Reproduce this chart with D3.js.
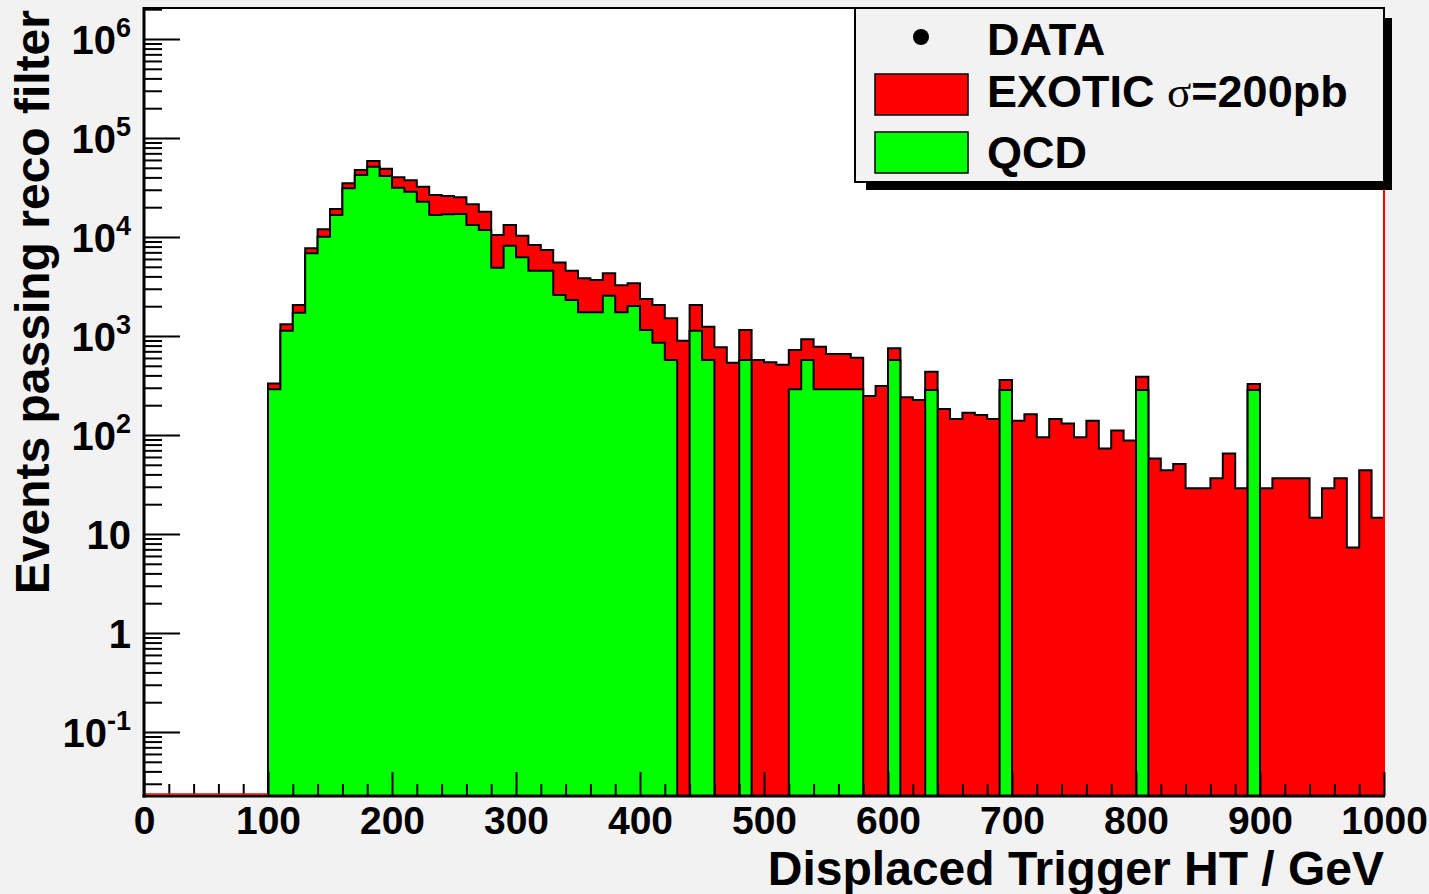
<!DOCTYPE html>
<html>
<head>
<meta charset="utf-8">
<script src="https://cdn.jsdelivr.net/npm/d3@7"></script>
<style>
  html, body { margin: 0; padding: 0; background: #f2f2f2; }
  svg { display: block; font-family: 'Liberation Sans', Arial, Helvetica, sans-serif; font-weight: bold; }
</style>
</head>
<body>
<div id="chart"></div>
<script>
// bin low edges, 10 GeV wide
const binLow = d3.range(0, 1000, 10);

// QCD (green), events per bin
const qcd = [
    0, 0, 0, 0, 0, 0, 0, 0, 0, 0,
    289, 1132, 1720, 6840, 10070, 16680, 31030, 42300, 51300, 41300,
    31500, 28700, 22700, 16700, 16950, 17100, 13200, 11770, 4900, 8170,
    6240, 4570, 4570, 2590, 2310, 1735, 1735, 2550, 1735, 2010,
    1150, 855, 572, 0, 1132, 572, 0, 0, 572, 0,
    0, 0, 289, 572, 289, 289, 289, 289, 0, 0,
    572, 0, 0, 285, 0, 0, 0, 0, 0, 285,
    0, 0, 0, 0, 0, 0, 0, 0, 0, 0,
    285, 0, 0, 0, 0, 0, 0, 0, 0, 285,
    0, 0, 0, 0, 0, 0, 0, 0, 0, 0
];

// EXOTIC sigma=200pb (red), stacked on top of QCD
const exotic = [
    0, 0, 0, 0, 0, 0, 0, 0, 0, 0,
    43, 181, 336, 850, 1900, 2490, 3820, 5200, 7300, 7660,
    8600, 8700, 9500, 9800, 8950, 8100, 8200, 6230, 5580, 5050,
    4060, 3730, 2830, 2920, 2260, 2095, 1945, 1750, 1515, 1395,
    1215, 1201, 938, 897, 924, 670, 769, 537, 578, 572,
    542, 513, 433, 353, 491, 369, 369, 315, 248, 313,
    179, 240, 226, 151, 183, 145, 168, 159, 145, 74,
    139, 162, 95, 145, 131, 95, 139, 73, 111, 88,
    103, 58, 44, 51, 29, 29, 36.5, 65, 29, 42,
    29, 36.5, 36.5, 36.5, 14.6, 29, 36.5, 7.3, 44, 14.6
];

const xMajor = [0, 100, 200, 300, 400, 500, 600, 700, 800, 900, 1000];
const yMajorExp = [-1, 0, 1, 2, 3, 4, 5, 6];
const legendLabels = ['DATA', 'EXOTIC', 'QCD'];

const W = 1429, H = 894;
const pLeft = 144, pRight = 1384, pTop = 8, pBottom = 796;

const svg = d3.select('#chart').append('svg')
    .attr('width', W)
    .attr('height', H);

svg.append('rect').attr('width', W).attr('height', H).attr('fill', '#f2f2f2');

const x = d3.scaleLinear().domain([0, 1000]).range([pLeft, pRight]);
const y = d3.scaleLog().domain([Math.pow(10, -1.6465), Math.pow(10, 6.3131)]).range([pBottom, pTop]).clamp(true);

svg.append('rect')
    .attr('x', pLeft).attr('y', pTop)
    .attr('width', pRight - pLeft).attr('height', pBottom - pTop)
    .attr('fill', '#ffffff');

const total = qcd.map((v, i) => v + exotic[i]);

function stepPath(vals) {
    let p = `M${x(0)},${pBottom}`;
    vals.forEach((v, i) => {
        const yy = v > 0 ? y(v) : pBottom;
        p += `L${x(binLow[i])},${yy}L${x(binLow[i] + 10)},${yy}`;
    });
    p += `L${x(1000)},${pBottom}`;
    return p;
}

// stacked: total (red) first, qcd (green) over it
[[total, '#ff0000'], [qcd, '#00ff00']].forEach(([vals, col]) => {
    svg.append('path')
        .attr('d', stepPath(vals) + 'Z')
        .attr('fill', col)
        .attr('stroke', 'none');
    svg.append('path')
        .attr('d', stepPath(vals))
        .attr('fill', 'none')
        .attr('stroke', '#000')
        .attr('stroke-width', 2)
        .attr('stroke-linejoin', 'miter');
});

// red edge at the end of the range
svg.append('line')
    .attr('x1', x(1000)).attr('x2', x(1000))
    .attr('y1', pTop).attr('y2', pBottom)
    .attr('stroke', '#ff0000').attr('stroke-width', 2);

// frame top line
svg.append('line')
    .attr('x1', pLeft).attr('x2', pRight)
    .attr('y1', pTop).attr('y2', pTop)
    .attr('stroke', '#000').attr('stroke-width', 2);

// y axis: minor ticks
const yMinor = [];
for (let n = -2; n <= 6; n++) {
    for (let k = 2; k <= 9; k++) {
        const v = k * Math.pow(10, n);
        if (v >= y.domain()[0] && v <= y.domain()[1]) yMinor.push(v);
    }
}
svg.append('g')
    .attr('transform', `translate(${pLeft},0)`)
    .call(d3.axisLeft(y).tickValues(yMinor).tickSizeInner(-18).tickSizeOuter(0).tickFormat(''))
    .call(g => g.select('.domain').remove())
    .call(g => g.selectAll('line').attr('stroke-width', 2));

// y axis: major ticks and labels
const yAxisG = svg.append('g')
    .attr('transform', `translate(${pLeft},0)`)
    .call(d3.axisLeft(y).tickValues(yMajorExp.map(e => Math.pow(10, e)))
        .tickSizeInner(-36).tickSizeOuter(0).tickPadding(13))
    .call(g => g.select('.domain').remove())
    .call(g => g.selectAll('line').attr('stroke-width', 2));

yAxisG.selectAll('text')
    .attr('font-family', "'Liberation Sans', Arial, sans-serif")
    .attr('font-weight', 'bold')
    .attr('font-size', 40)
    .attr('fill', '#000')
    .attr('dy', null)
    .attr('y', 15)
    .each(function (d) {
        const e = Math.round(Math.log10(d));
        const t = d3.select(this).text(null);
        if (e === 0) { t.text('1'); return; }
        if (e === 1) { t.text('10'); return; }
        t.append('tspan').text('10');
        t.append('tspan').attr('font-size', 27).attr('dy', -17).text(String(e));
    });

// x axis: minor ticks
const xMinor = d3.range(0, 1001, 20).filter(v => v % 100 !== 0);
svg.append('g')
    .attr('transform', `translate(0,${pBottom})`)
    .call(d3.axisBottom(x).tickValues(xMinor).tickSizeInner(-12).tickSizeOuter(0).tickFormat(''))
    .call(g => g.select('.domain').remove())
    .call(g => g.selectAll('line').attr('stroke-width', 2));

// x axis: major ticks and labels
const xAxisG = svg.append('g')
    .attr('transform', `translate(0,${pBottom})`)
    .call(d3.axisBottom(x).tickValues(xMajor).tickSizeInner(-24).tickSizeOuter(0).tickFormat(d3.format('d')))
    .call(g => g.select('.domain').remove())
    .call(g => g.selectAll('line').attr('stroke-width', 2));

xAxisG.selectAll('text')
    .attr('font-family', "'Liberation Sans', Arial, sans-serif")
    .attr('font-weight', 'bold')
    .attr('font-size', 39)
    .attr('fill', '#000')
    .attr('dy', null)
    .attr('y', 38);

// axis lines
svg.append('line')
    .attr('x1', pLeft).attr('x2', pLeft)
    .attr('y1', pTop - 1).attr('y2', pBottom + 1.5)
    .attr('stroke', '#000').attr('stroke-width', 3);
svg.append('line')
    .attr('x1', pLeft - 1.5).attr('x2', pRight + 1)
    .attr('y1', pBottom).attr('y2', pBottom)
    .attr('stroke', '#000').attr('stroke-width', 3);

// empty low bins of the red histogram sit on the axis
svg.append('line')
    .attr('x1', x(0) + 2).attr('x2', x(100))
    .attr('y1', pBottom - 2).attr('y2', pBottom - 2)
    .attr('stroke', '#ff0000').attr('stroke-width', 1.5);

// axis titles
svg.append('text')
    .attr('x', pRight).attr('y', 885)
    .attr('text-anchor', 'end')
    .attr('font-size', 48)
    .text('Displaced Trigger HT / GeV');

svg.append('text')
    .attr('transform', 'translate(49,10) rotate(-90)')
    .attr('text-anchor', 'end')
    .attr('font-size', 48)
    .text('Events passing reco filter');

// legend
const lg = svg.append('g');
lg.append('rect')
    .attr('x', 866).attr('y', 18)
    .attr('width', 1392 - 866).attr('height', 190 - 18)
    .attr('fill', '#000');
lg.append('rect')
    .attr('x', 855).attr('y', 8)
    .attr('width', 1384 - 855).attr('height', 182 - 8)
    .attr('fill', '#f2f2f2')
    .attr('stroke', '#000').attr('stroke-width', 2);

lg.append('circle')
    .attr('cx', 921).attr('cy', 37).attr('r', 8)
    .attr('fill', '#000');
lg.append('rect')
    .attr('x', 875).attr('y', 74).attr('width', 93).attr('height', 41)
    .attr('fill', '#ff0000').attr('stroke', '#000').attr('stroke-width', 1.5);
lg.append('rect')
    .attr('x', 875).attr('y', 132).attr('width', 93).attr('height', 41)
    .attr('fill', '#00ff00').attr('stroke', '#000').attr('stroke-width', 1.5);

lg.append('text').attr('x', 987).attr('y', 55).attr('font-size', 45).text(legendLabels[0]);
const exoText = lg.append('text').attr('x', 987).attr('y', 107).attr('font-size', 45);
exoText.append('tspan').text(legendLabels[1] + ' ');
exoText.append('tspan')
    .attr('font-family', "'Liberation Serif', 'Times New Roman', serif")
    .attr('font-weight', 'normal')
    .text('σ');
exoText.append('tspan').text('=200pb');
lg.append('text').attr('x', 987).attr('y', 168).attr('font-size', 45).text(legendLabels[2]);
</script>
</body>
</html>
